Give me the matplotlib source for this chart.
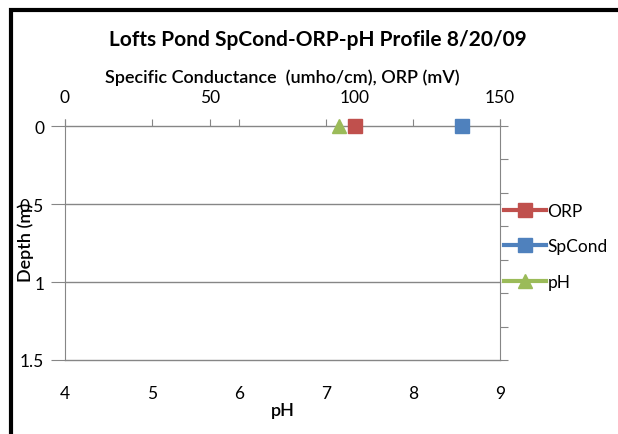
import matplotlib
matplotlib.use("Agg")
import matplotlib.pyplot as plt
from matplotlib.lines import Line2D
from matplotlib.patches import Rectangle

plt.rcParams['font.family'] = ['Lato', 'DejaVu Sans']

# Profile data (single depth reading)
depth = [0]
orp = [100]
spcond = [137]
ph = [7.15]

series_names = ["ORP", "SpCond", "pH"]
red, blue, green = "#C0504D", "#4F81BD", "#9BBB59"
grid_col = "#868686"

fig = plt.figure(figsize=(6.18, 4.35), dpi=100)
W, H = 618, 435
ax = fig.add_axes([65 / W, 1 - 361 / H, 435 / W, 234 / H])

# pH on the bottom axis
ax.set_xlim(4, 9)
ax.set_ylim(1.5, 0)
ax.set_xticks([4, 5, 6, 7, 8, 9])
ax.set_yticks([0, 0.5, 1, 1.5])
ax.set_yticklabels(["0", "0.5", "1", "1.5"])
for s in ["top", "bottom", "right"]:
    ax.spines[s].set_visible(False)
ax.spines["left"].set_color(grid_col)
for d in [0, 0.5, 1, 1.5]:
    ax.axhline(d, color=grid_col, linewidth=1, clip_on=False, zorder=1)
ax.set_xlabel("pH", fontsize=13, fontweight="semibold", labelpad=1)
ax.plot(ph, depth, linestyle="none", marker="^", markersize=10, color=green,
        zorder=5, clip_on=False)

# right side axis ticks
sec = ax.secondary_yaxis("right")
sec.set_yticks([0, 1.5 / 7, 3 / 7, 4.5 / 7, 6 / 7, 7.5 / 7, 9 / 7, 1.5])
sec.set_yticklabels([])
sec.spines["right"].set_color(grid_col)
sec.tick_params(direction="out", length=6, color=grid_col)

# SpCond / ORP on the top axis
ax2 = ax.twiny()
ax2.set_xlim(0, 150)
ax2.set_xticks([0, 50, 100, 150])
for s in ["top", "bottom", "right", "left"]:
    ax2.spines[s].set_visible(False)
ax2.tick_params(axis="x", top=True, direction="out", length=5, color=grid_col,
                pad=10, labelsize=12.5)
ax2.set_xlabel("Specific Conductance  (umho/cm), ORP (mV)", fontsize=13,
               fontweight="semibold", labelpad=5)
ax2.plot(orp, depth, linestyle="none", marker="s", markersize=10, color=red,
         zorder=5, clip_on=False)
ax2.plot(spcond, depth, linestyle="none", marker="s", markersize=10, color=blue,
         zorder=5, clip_on=False)

# twiny moves ax ticks to bottom, so set them afterwards
ax.xaxis.set_ticks_position("top")
ax.tick_params(axis="x", labelbottom=True, labeltop=False, direction="out",
               length=5, color=grid_col, pad=13, labelsize=12.5)
ax.xaxis.set_label_position("bottom")
ax.tick_params(axis="y", left=True, direction="out", length=10, color=grid_col,
               pad=5, labelsize=12.5)

fig.text(318 / W, 1 - 40 / H, "Lofts Pond SpCond-ORP-pH Profile 8/20/09",
         ha="center", va="center", fontsize=15, fontweight="bold")
fig.text(26 / W, 1 - 242 / H, "Depth (m)", rotation=90, ha="center", va="center",
         fontsize=13, fontweight="semibold")

handles = [
    Line2D([], [], color=red, marker="s", markersize=10, linewidth=3),
    Line2D([], [], color=blue, marker="s", markersize=10, linewidth=3),
    Line2D([], [], color=green, marker="^", markersize=10, linewidth=3),
]
fig.legend(handles, series_names, loc="upper left", bbox_to_anchor=(497 / W, 1 - 197 / H),
           frameon=False, fontsize=12.5, handlelength=2.4, handletextpad=0.1,
           labelspacing=1.12, borderaxespad=0)

# chart area border
fig.patches.append(Rectangle((11 / W, -0.1), 1.2, 1.1 - 11 / H, transform=fig.transFigure,
                             fill=False, edgecolor="black", linewidth=3))

fig.savefig("out.png", dpi=100)
